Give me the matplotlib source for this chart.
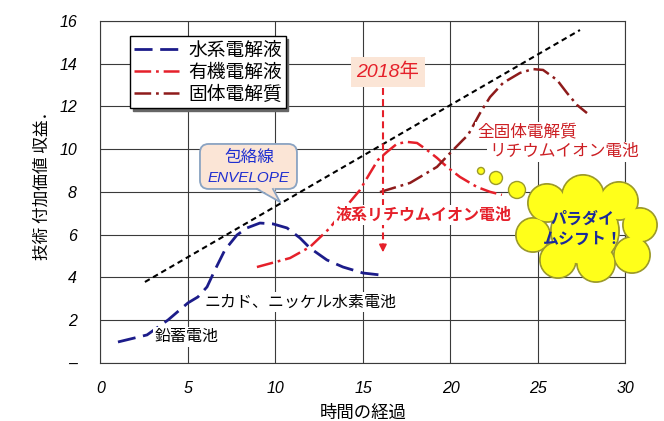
import matplotlib
matplotlib.use("Agg")
import matplotlib.pyplot as plt
from matplotlib.patches import Ellipse, FancyBboxPatch, Polygon

plt.rcParams['font.family'] = ['Noto Sans CJK JP', 'DejaVu Sans']
plt.rcParams['lines.scale_dashes'] = False

# ---- data ----
aqueous_x = [1.0, 2.66, 3.86, 5.0, 5.57, 6.09, 6.54, 7.11, 7.8, 8.37, 9.11, 9.86, 10.66, 11.4, 11.97, 12.94, 13.86, 15.0, 15.97]
aqueous_y = [0.97, 1.30, 2.0, 2.8, 3.08, 3.55, 4.34, 5.28, 5.98, 6.31, 6.54, 6.5, 6.31, 5.84, 5.37, 4.81, 4.48, 4.2, 4.11]

organic_x = [8.94, 10.83, 11.97, 13.11, 14.26, 14.83, 15.4, 15.86, 16.37, 16.94, 17.51, 18.09, 18.66, 19.23, 19.8, 20.54, 21.51, 22.26, 22.94]
organic_y = [4.48, 4.9, 5.42, 6.31, 7.53, 8.09, 8.88, 9.5, 9.87, 10.25, 10.34, 10.29, 9.96, 9.59, 9.17, 8.7, 8.23, 8.0, 7.86]

solid_x = [15.97, 17.69, 19.23, 19.97, 20.71, 21.0, 21.69, 22.26, 23.0, 23.97, 24.71, 25.29, 26.09, 26.66, 27.23, 27.8]
solid_y = [7.99, 8.42, 9.17, 9.81, 10.43, 10.66, 11.69, 12.44, 13.1, 13.57, 13.75, 13.71, 13.24, 12.63, 12.07, 11.69]

envelope_x = [2.54, 27.4]
envelope_y = [3.78, 15.58]

year_x = 16.14
year_y = [12.86, 5.04]

series_labels = ['水系電解液', '有機電解液', '固体電解質']
x_ticks = [0, 5, 10, 15, 20, 25, 30]
y_ticks = [0, 2, 4, 6, 8, 10, 12, 14, 16]
y_tick_labels = ['–', '2', '4', '6', '8', '10', '12', '14', '16']

NAVY = '#1c1c8a'
RED = '#e5202a'
DARKRED = '#8e1b1b'

fig = plt.figure(figsize=(6.64, 4.21), dpi=100)
ax = fig.add_axes([0.1513, 0.1385, 0.7907, 0.8115])
ax.set_xlim(0, 30)
ax.set_ylim(0, 16)


def px(xp, yp):
    return ((xp - 100.5) / 17.5, (362.7 - yp) / 21.35)


def rx(r):
    return r / 17.5


def ry(r):
    return r / 21.35


# grid / spines
ax.set_xticks(x_ticks)
ax.set_yticks(y_ticks)
ax.set_yticklabels(y_tick_labels)
ax.grid(True, color='#3a3a3a', lw=0.8, zorder=0)
ax.set_axisbelow(True)
for s in ax.spines.values():
    s.set_color('#3a3a3a')
    s.set_linewidth(0.8)
ax.tick_params(length=0)
ax.tick_params(axis='y', pad=17)
ax.tick_params(axis='x', pad=13)
for lab in ax.get_xticklabels() + ax.get_yticklabels():
    lab.set_family('Liberation Sans')
    lab.set_style('italic')
    lab.set_fontsize(11.5)

ax.set_ylabel('技術 付加価値 収益．', fontsize=12)
ax.yaxis.set_label_coords(-0.094, 0.53)
ax.set_xlabel('時間の経過', fontsize=12.5, labelpad=6)

# curves
l1, = ax.plot(aqueous_x, aqueous_y, color=NAVY, lw=2.0, dashes=(13, 5.5), zorder=3,
              label=series_labels[0], solid_capstyle='butt')
l2, = ax.plot(organic_x, organic_y, color=RED, lw=1.8, dashes=(12, 3.5, 2, 3.5), zorder=3,
              label=series_labels[1])
l3, = ax.plot(solid_x, solid_y, color=DARKRED, lw=1.8, dashes=(12, 3.5, 2, 3.5), zorder=3,
              label=series_labels[2])
ax.plot(envelope_x, envelope_y, color='black', lw=1.5, dashes=(4, 2.8), zorder=3)

# 2018 arrow
ax.plot([year_x, year_x], [year_y[0], year_y[1] + 0.35], color=RED, lw=1.5, dashes=(5, 3), zorder=4)
ax.annotate('', xy=(year_x, year_y[1]), xytext=(year_x, year_y[1] + 0.5),
            arrowprops=dict(arrowstyle='-|>', color=RED, lw=1.2, mutation_scale=11), zorder=4)
ax.text(*px(388, 72), '2018年', ha='center', va='center', color=RED, fontsize=14,
        family=['Liberation Sans', 'Noto Sans CJK JP'], style='italic', zorder=6,
        bbox=dict(boxstyle='square,pad=0.3', fc='#fbe5d6', ec='none'))

# envelope callout
bx0, by0 = px(200, 189)
bx1, by1 = px(297, 144)
box = FancyBboxPatch((bx0, by0), bx1 - bx0, by1 - by0,
                     boxstyle='round,pad=0,rounding_size=0.5', fc='#fbe5d6', ec='#8aa3c2',
                     lw=1.3, zorder=6, mutation_aspect=17.5 / 21.35)
ax.add_patch(box)
t1, t2, t3 = px(257, 189), px(273, 189), px(280, 202)
ax.add_patch(Polygon([px(256, 187), px(274, 187), t3], closed=True, fc='#fbe5d6', ec='none', zorder=6.5))
ax.plot([t1[0], t3[0]], [t1[1], t3[1]], color='#8aa3c2', lw=1.3, zorder=6.6)
ax.plot([t2[0], t3[0]], [t2[1], t3[1]], color='#8aa3c2', lw=1.3, zorder=6.6)
ax.text(*px(249, 158), '包絡線', ha='center', va='center', color='#1f2fd0', fontsize=12, zorder=7)
ax.text(*px(249, 178), 'ENVELOPE', ha='center', va='center', color='#1f2fd0', fontsize=11,
        family='Liberation Sans', style='italic', zorder=7)

# text labels with white background
wb = dict(boxstyle='square,pad=0.1', fc='white', ec='none')
ax.text(*px(155, 337), '鉛蓄電池', ha='left', va='center', fontsize=11.5, color='black', zorder=5, bbox=wb)
ax.text(*px(205, 302), 'ニカド、ニッケル水素電池', ha='left', va='center', fontsize=11.5,
        color='black', zorder=5, bbox=wb)
ax.text(*px(424, 215), '液系リチウムイオン電池', ha='center', va='center', fontsize=11.5,
        color=RED, weight='bold', zorder=5, bbox=wb)
ax.text(*px(477, 132), '全固体電解質', ha='left', va='center', fontsize=12,
        color='#cc1f24', zorder=5, bbox=wb)
ax.text(*px(489, 152), 'リチウムイオン電池', ha='left', va='center', fontsize=12,
        color='#cc1f24', zorder=5, bbox=wb)

# thought bubbles
YEL = '#ffff1a'
EDGE = '#9c9a2a'
for (cx, cy, r) in [(481, 171, 3.5), (496, 178, 6.5), (517, 190, 8.5)]:
    c = px(cx, cy)
    ax.add_patch(Ellipse(c, 2 * rx(r), 2 * ry(r), fc=YEL, ec=EDGE, lw=1.0, zorder=8, clip_on=False))

# cloud
cloud = [(547, 203, 19), (583, 196, 21), (619, 201, 19), (640, 225, 17), (632, 255, 18),
         (596, 263, 19), (558, 260, 18), (533, 235, 17), (585, 231, 34)]
for (cx, cy, r) in cloud:
    c = px(cx, cy)
    ax.add_patch(Ellipse(c, 2 * rx(r), 2 * ry(r), fc=YEL, ec=EDGE, lw=1.4, zorder=8, clip_on=False))
for (cx, cy, r) in cloud:
    c = px(cx, cy)
    ax.add_patch(Ellipse(c, 2 * rx(r) - rx(1.6), 2 * ry(r) - ry(1.6), fc=YEL, ec='none', zorder=8.5,
                         clip_on=False))
ax.text(*px(582, 229), 'パラダイ\nムシフト！', ha='center', va='center', fontsize=11.5,
        color='#1a2a9a', weight='bold', zorder=9, linespacing=1.3)

# legend
leg = ax.legend(handles=[l1, l2, l3], loc='upper left',
                bbox_to_anchor=(130 / 664, 1 - 36 / 421), bbox_transform=fig.transFigure,
                prop=dict(family='Noto Sans CJK JP', size=13.5), frameon=True, fancybox=False,
                shadow=dict(color='#666666', alpha=1), edgecolor='black', framealpha=1,
                handlelength=2.4, handletextpad=0.5, labelspacing=0.05, borderpad=0.2,
                borderaxespad=0)
leg.get_frame().set_linewidth(1.0)
leg.set_zorder(10)

fig.savefig('out.png', dpi=100)
